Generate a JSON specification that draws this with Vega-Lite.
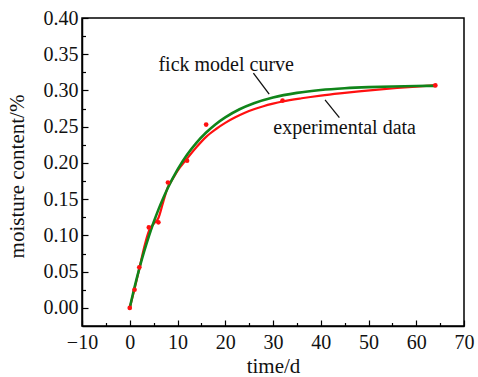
{
  "$schema": "https://vega.github.io/schema/vega-lite/v6.json",
  "width": 382,
  "height": 308,
  "autosize": "none",
  "padding": {"left": 82, "top": 18, "right": 14, "bottom": 51},
  "background": "white",
  "config": {
    "view": {"stroke": "#000", "strokeWidth": 1.5},
    "font": "Liberation Serif",
    "axis": {"grid": false, "domainColor": "#000", "tickColor": "#000", "domainWidth": 1.5, "tickWidth": 1.2, "labelColor": "#111", "titleColor": "#111", "labelFont": "Liberation Serif", "titleFont": "Liberation Serif", "labelFontSize": 20, "titleFontSize": 21, "titleFontWeight": "normal"}
  },
  "datasets": {
    "points": [
      {"t": 0, "m": 0.0},
      {"t": 1, "m": 0.025},
      {"t": 2, "m": 0.056},
      {"t": 4, "m": 0.111},
      {"t": 6, "m": 0.118},
      {"t": 8, "m": 0.173},
      {"t": 12, "m": 0.203},
      {"t": 16, "m": 0.253},
      {"t": 32, "m": 0.286},
      {"t": 64, "m": 0.307}
    ],
    "fick": [
      {"t": 0, "m": 0.0},
      {"t": 1, "m": 0.0284},
      {"t": 2, "m": 0.0542},
      {"t": 3, "m": 0.0776},
      {"t": 4, "m": 0.0988},
      {"t": 5, "m": 0.1181},
      {"t": 6, "m": 0.1356},
      {"t": 7, "m": 0.1514},
      {"t": 8, "m": 0.1658},
      {"t": 10, "m": 0.1907},
      {"t": 12, "m": 0.2112},
      {"t": 14, "m": 0.2281},
      {"t": 16, "m": 0.242},
      {"t": 18, "m": 0.2535},
      {"t": 20, "m": 0.2629},
      {"t": 23, "m": 0.2741},
      {"t": 26, "m": 0.2824},
      {"t": 30, "m": 0.2903},
      {"t": 35, "m": 0.2967},
      {"t": 40, "m": 0.3007},
      {"t": 45, "m": 0.3031},
      {"t": 50, "m": 0.3046},
      {"t": 55, "m": 0.3055},
      {"t": 60, "m": 0.3061},
      {"t": 64, "m": 0.3064}
    ],
    "exper": [
      {"t": 0, "m": 0.0},
      {"t": 1, "m": 0.026},
      {"t": 2, "m": 0.054},
      {"t": 3, "m": 0.083},
      {"t": 4, "m": 0.106},
      {"t": 5, "m": 0.116},
      {"t": 6, "m": 0.124},
      {"t": 7, "m": 0.146},
      {"t": 8, "m": 0.167},
      {"t": 9, "m": 0.178},
      {"t": 10, "m": 0.189},
      {"t": 12, "m": 0.206},
      {"t": 14, "m": 0.222},
      {"t": 16, "m": 0.236},
      {"t": 18, "m": 0.2465},
      {"t": 20, "m": 0.2553},
      {"t": 22, "m": 0.2626},
      {"t": 24, "m": 0.2688},
      {"t": 26, "m": 0.274},
      {"t": 28, "m": 0.2783},
      {"t": 30, "m": 0.2818},
      {"t": 32, "m": 0.2848},
      {"t": 36, "m": 0.2893},
      {"t": 40, "m": 0.293},
      {"t": 44, "m": 0.2961},
      {"t": 48, "m": 0.2988},
      {"t": 52, "m": 0.3012},
      {"t": 56, "m": 0.3034},
      {"t": 60, "m": 0.3054},
      {"t": 64, "m": 0.3073}
    ],
    "labels": [
      {"t": 20.2, "m": 0.335, "text": "fick model curve"},
      {"t": 45, "m": 0.2486, "text": "experimental data"}
    ],
    "leaders": [
      {"t": 25.9, "m": 0.324, "t2": 29.2, "m2": 0.2949},
      {"t": 40.9, "m": 0.2869, "t2": 43.9, "m2": 0.2625}
    ]
  },
  "layer": [
    {
      "data": {"name": "exper"},
      "mark": {"type": "line", "color": "#ff1010", "strokeWidth": 2.2, "interpolate": "monotone"},
      "encoding": {
        "x": {"field": "t", "type": "quantitative", "scale": {"domain": [-10, 70], "nice": false, "zero": false},
              "axis": {"orient": "bottom", "values": [-10, 0, 10, 20, 30, 40, 50, 60, 70], "tickSize": -6, "labelPadding": 12, "title": "time/d", "titlePadding": 3, "labelFlush": false, "labelExpr": "datum.value < 0 ? '\u221210' : datum.label"}},
        "y": {"field": "m", "type": "quantitative", "scale": {"domain": [-0.025, 0.4], "nice": false, "zero": false},
              "axis": {"orient": "left", "values": [0, 0.05, 0.1, 0.15, 0.2, 0.25, 0.3, 0.35, 0.4], "format": ".2f", "tickSize": -6, "labelPadding": 10, "title": "moisture content/%", "titlePadding": 16, "titleY": 158, "labelFlush": false}}
      }
    },
    {
      "data": {"name": "fick"},
      "mark": {"type": "line", "color": "#10851a", "strokeWidth": 2.6, "interpolate": "monotone"},
      "encoding": {
        "x": {"field": "t", "type": "quantitative", "scale": {"domain": [-10, 70], "nice": false, "zero": false},
              "axis": {"orient": "bottom", "values": [-5, 5, 15, 25, 35, 45, 55, 65], "tickSize": -3.5, "labels": false, "domain": false, "title": null}},
        "y": {"field": "m", "type": "quantitative", "scale": {"domain": [-0.025, 0.4], "nice": false, "zero": false},
              "axis": {"orient": "left", "values": [0.025, 0.075, 0.125, 0.175, 0.225, 0.275, 0.325, 0.375], "tickSize": -3.5, "labels": false, "domain": false, "title": null}}
      }
    },
    {
      "data": {"name": "points"},
      "mark": {"type": "circle", "color": "#ff1010", "size": 22, "opacity": 1},
      "encoding": {
        "x": {"field": "t", "type": "quantitative", "axis": null},
        "y": {"field": "m", "type": "quantitative", "axis": null}
      }
    },
    {
      "data": {"name": "leaders"},
      "mark": {"type": "rule", "color": "#111", "strokeWidth": 1.3},
      "encoding": {
        "x": {"field": "t", "type": "quantitative", "axis": null},
        "y": {"field": "m", "type": "quantitative", "axis": null},
        "x2": {"field": "t2"},
        "y2": {"field": "m2"}
      }
    },
    {
      "data": {"name": "labels"},
      "mark": {"type": "text", "font": "Liberation Serif", "fontSize": 20, "color": "#111", "align": "center", "baseline": "middle"},
      "encoding": {
        "x": {"field": "t", "type": "quantitative", "axis": null},
        "y": {"field": "m", "type": "quantitative", "axis": null},
        "text": {"field": "text", "type": "nominal"}
      }
    }
  ],
  "resolve": {"axis": {"x": "independent", "y": "independent"}}
}
